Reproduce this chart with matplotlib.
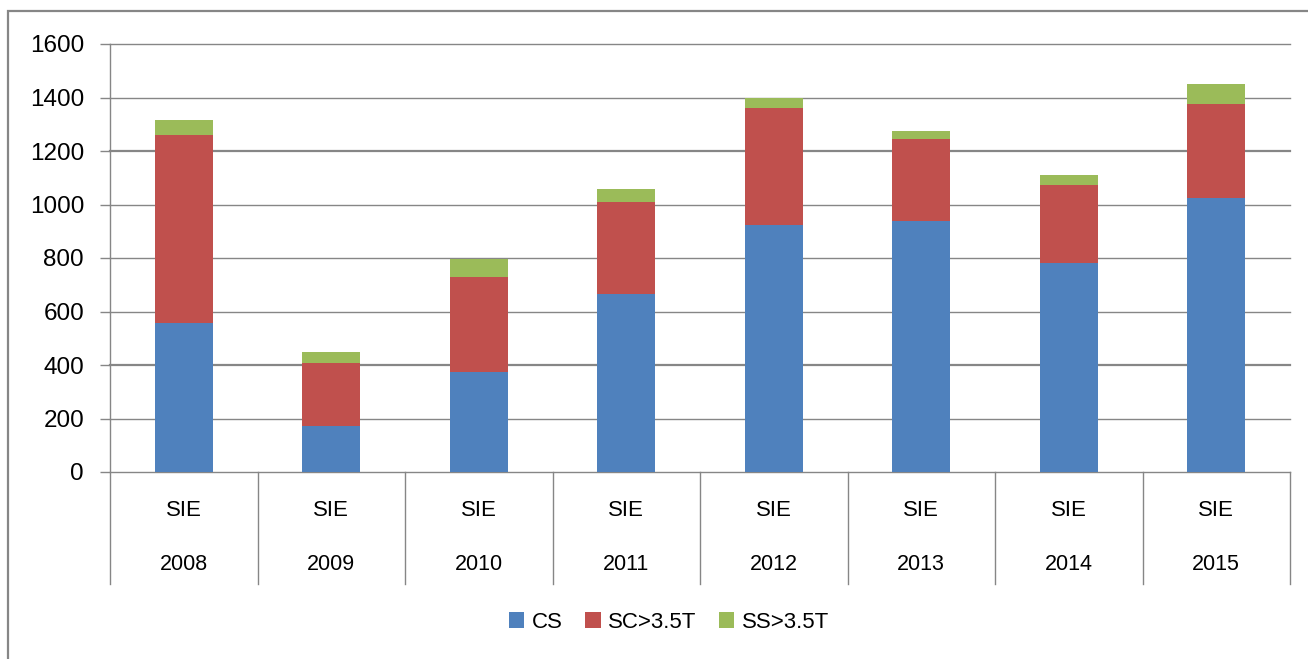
import matplotlib
matplotlib.use('Agg')
import matplotlib.pyplot as plt
from matplotlib.patches import Rectangle
import numpy as np

years = ['2008', '2009', '2010', '2011', '2012', '2013', '2014', '2015']
group = 'SIE'
cs = [557, 173, 375, 666, 923, 938, 781, 1025]
sc = [702, 234, 354, 343, 437, 306, 291, 351]
ss = [56, 41, 67, 48, 40, 30, 38, 74]
series_names = ['CS', 'SC>3.5T', 'SS>3.5T']
colors = ['#4F81BD', '#C0504D', '#9BBB59']
yticks = [0, 200, 400, 600, 800, 1000, 1200, 1400, 1600]

plt.rcParams['font.family'] = ['Liberation Sans', 'DejaVu Sans']
W, H = 1308, 659
fig = plt.figure(figsize=(W / 100, H / 100), dpi=100)
fig.patch.set_facecolor('white')
grid_c = '#868686'

# outer chart border (only left and top visible in the original)
fig.add_artist(Rectangle((8 / W, -0.1), 1.2, (H - 11) / H + 0.1,
                         transform=fig.transFigure, fill=False,
                         edgecolor=grid_c, lw=1.6))

x0, x1, y0, y1 = 110, 1290, 472, 44
ax = fig.add_axes([x0 / W, (H - y0) / H, (x1 - x0) / W, (y0 - y1) / H])

x = np.arange(len(years))
cs_a, sc_a, ss_a = np.array(cs), np.array(sc), np.array(ss)
w = 0.39
ax.bar(x, cs_a, w, color=colors[0], label=series_names[0], zorder=3)
ax.bar(x, sc_a, w, bottom=cs_a, color=colors[1], label=series_names[1], zorder=3)
ax.bar(x, ss_a, w, bottom=cs_a + sc_a, color=colors[2], label=series_names[2], zorder=3)

ax.set_xlim(-0.5, len(years) - 0.5)
ax.set_ylim(0, 1600)
ax.set_yticks(yticks)
for v in yticks:
    # 400 and 1200 look heavier in the original
    ax.axhline(v, color=grid_c, lw=1.6 if v in (400, 1200) else 1.0, zorder=1,
               clip_on=False)
ax.tick_params(axis='y', length=7.2, width=1.0, color=grid_c, pad=11.5, labelsize=17.5)
ax.set_xticks([])
for s in ['top', 'right', 'bottom', 'left']:
    ax.spines[s].set_visible(False)

# category table under the axis
depth = (584 - y0) / (y0 - y1)
ax.plot([-0.5, -0.5], [-depth, 1], transform=ax.get_xaxis_transform(),
        color=grid_c, lw=1.0, clip_on=False)
for b in np.arange(0.5, len(years), 1.0):
    ax.plot([b, b], [-depth, 0], transform=ax.get_xaxis_transform(),
            color=grid_c, lw=1.0, clip_on=False)
for i, yr in enumerate(years):
    ax.text(i, -(510 - y0) / (y0 - y1), group, transform=ax.get_xaxis_transform(),
            ha='center', va='center', fontsize=16)
    ax.text(i, -(565 - y0) / (y0 - y1), yr, transform=ax.get_xaxis_transform(),
            ha='center', va='center', fontsize=15.5)

fig.legend(loc='center', bbox_to_anchor=(669 / W, (H - 622) / H), ncol=3,
           frameon=False, fontsize=16,
           handlelength=0.7, handleheight=0.7,
           handletextpad=0.35, columnspacing=1.0)

fig.savefig('out.png', dpi=100)
